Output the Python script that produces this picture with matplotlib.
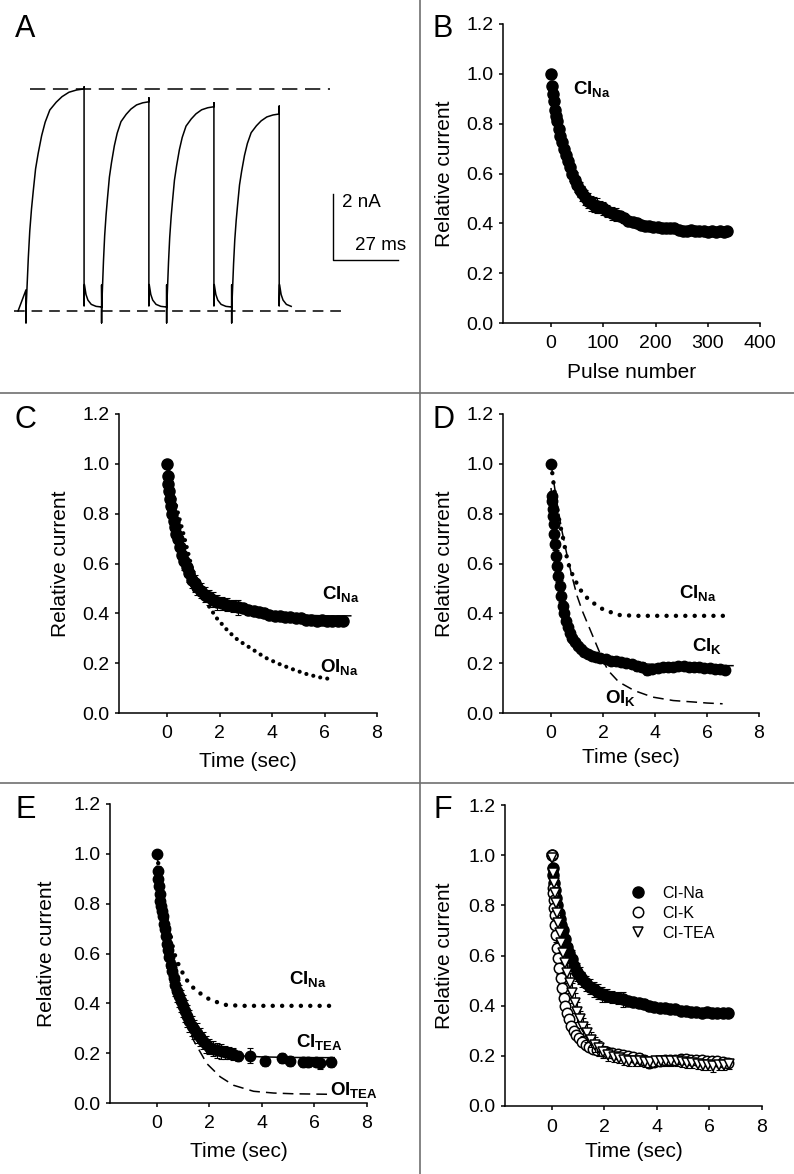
import numpy as np
import matplotlib
matplotlib.use('Agg')
import matplotlib.pyplot as plt
from matplotlib.lines import Line2D
from matplotlib.ticker import FormatStrFormatter

plt.rcParams['font.family'] = ['Liberation Sans', 'DejaVu Sans']
plt.rcParams['mathtext.fontset'] = 'custom'
plt.rcParams['mathtext.rm'] = 'Liberation Sans'
plt.rcParams['mathtext.bf'] = 'Liberation Sans:bold'
plt.rcParams['mathtext.it'] = 'Liberation Sans:italic'

# ---- panel A: current traces (ms, nA) ----
pulseStart = [0, 31.5, 58.6, 85.7]
pulseDur = [24.2, 19.7, 19.7, 19.8]
pulsePeak = [6.73, 6.34, 6.19, 5.97]
endTop = [6.79, 6.46, 6.31, 6.21]
artTop = [0.64, 0.79, 0.79, 0.79]
artBottom = -0.36
riseFrac = [0, 0.02, 0.04, 0.065, 0.095, 0.125, 0.165, 0.21, 0.27, 0.33, 0.41, 0.52, 0.62, 0.74, 0.87, 1.0]
riseVal = [0, 0.12, 0.24, 0.36, 0.46, 0.54, 0.64, 0.71, 0.79, 0.85, 0.905, 0.94, 0.965, 0.985, 0.995, 1.0]
tailT = [0, 0.15, 0.8, 1.6, 3.0, 5.0, 7.4]
tailVal = [0.15, 0.8, 0.5, 0.33, 0.2, 0.14, 0.12]
lastTail = 5.7
peakLevel = 6.73
scaleX, scaleY = 127.9, 1.545   # corner of the scale bar
scaleMs, scaleNa = 27, 2

# ---- panel B: CI_Na vs pulse number ----
pulseNum = [0, 2, 4, 6, 8, 10, 12, 15, 18, 21, 24, 28, 32, 36, 40, 45, 50, 55, 60, 65,
            70, 76, 82, 88, 94, 100, 108, 116, 124, 132, 140, 148, 156, 164, 172, 180, 188, 196, 204, 212,
            220, 228, 236, 244, 252, 260, 268, 276, 284, 292, 300, 308, 316, 324, 332, 336]
pulseY = [1.00, 0.95, 0.92, 0.89, 0.855, 0.83, 0.81, 0.78, 0.75, 0.725, 0.70, 0.675, 0.65, 0.625, 0.60, 0.575, 0.555, 0.535, 0.52, 0.505,
          0.49, 0.48, 0.475, 0.47, 0.465, 0.46, 0.45, 0.44, 0.435, 0.43, 0.42, 0.41, 0.405, 0.40, 0.395, 0.39, 0.39, 0.385, 0.385, 0.38,
          0.38, 0.38, 0.38, 0.375, 0.37, 0.37, 0.375, 0.37, 0.37, 0.37, 0.365, 0.37, 0.365, 0.37, 0.365, 0.37]
pulseErr = [0.0, 0.01, 0.01, 0.015, 0.015, 0.015, 0.02, 0.02, 0.02, 0.025, 0.025, 0.025, 0.03, 0.03, 0.03, 0.03, 0.03, 0.03, 0.03, 0.03,
            0.03, 0.03, 0.03, 0.03, 0.025, 0.025, 0.025, 0.025, 0.025, 0.02, 0.02, 0.015, 0.015, 0.015, 0.015, 0.015, 0.015, 0.015, 0.015, 0.015,
            0.015, 0.015, 0.015, 0.015, 0.015, 0.015, 0.015, 0.015, 0.015, 0.015, 0.015, 0.015, 0.015, 0.015, 0.015, 0.015]

# ---- panel C: CI_Na vs time ----
cinaT = [0, 0.02, 0.05, 0.08, 0.12, 0.16, 0.2, 0.25, 0.3, 0.36, 0.42, 0.5, 0.58, 0.66, 0.75, 0.85, 0.95, 1.05, 1.15, 1.3,
         1.45, 1.6, 1.75, 1.9, 2.1, 2.3, 2.5, 2.7, 2.9, 3.1, 3.3, 3.5, 3.7, 3.9, 4.1, 4.3, 4.5, 4.7, 4.9, 5.1,
         5.3, 5.5, 5.7, 5.9, 6.1, 6.3, 6.5, 6.7]
cinaY = [1.0, 0.95, 0.92, 0.89, 0.86, 0.83, 0.80, 0.77, 0.745, 0.72, 0.70, 0.665, 0.635, 0.61, 0.585, 0.56, 0.535, 0.52, 0.505, 0.49,
         0.475, 0.465, 0.455, 0.445, 0.44, 0.435, 0.43, 0.425, 0.42, 0.415, 0.41, 0.405, 0.40, 0.395, 0.39, 0.39, 0.385, 0.385, 0.38, 0.38,
         0.375, 0.375, 0.37, 0.375, 0.37, 0.37, 0.37, 0.37]
cinaErr = [0.0, 0.015, 0.015, 0.02, 0.02, 0.02, 0.025, 0.025, 0.025, 0.03, 0.03, 0.03, 0.03, 0.035, 0.035, 0.035, 0.035, 0.035, 0.03, 0.03,
           0.03, 0.03, 0.03, 0.03, 0.025, 0.025, 0.025, 0.03, 0.02, 0.02, 0.02, 0.02, 0.02, 0.015, 0.015, 0.015, 0.015, 0.015, 0.015, 0.015,
           0.015, 0.015, 0.015, 0.015, 0.015, 0.015, 0.015, 0.015]
cinaFitT = [0, 0.1, 0.25, 0.5, 0.75, 1.0, 1.5, 2.0, 3.0, 4.0, 5.0, 6.0, 7.0]
cinaFitY = [0.97, 0.88, 0.78, 0.66, 0.58, 0.53, 0.47, 0.44, 0.415, 0.40, 0.393, 0.39, 0.39]
oinaT = [0, 0.3, 0.6, 1.0, 1.4, 1.89, 2.33, 2.71, 3.22, 3.73, 4.24, 4.75, 5.26, 5.77, 6.34]
oinaY = [1.0, 0.85, 0.73, 0.56, 0.46, 0.381, 0.328, 0.292, 0.258, 0.223, 0.198, 0.177, 0.158, 0.144, 0.134]

# ---- CI_Na fit shown dotted in D and E ----
naFitT = [0, 0.05, 0.12, 0.2, 0.35, 0.44, 0.64, 0.77, 1.08, 1.46, 2.04, 2.65, 3.3, 4.0, 5.0, 6.0, 6.8]
naFitY = [1.0, 0.96, 0.9, 0.84, 0.753, 0.713, 0.607, 0.567, 0.5, 0.453, 0.413, 0.393, 0.39, 0.39, 0.39, 0.39, 0.39]

# ---- panel D: CI_K ----
cikT = [0, 0.02, 0.04, 0.06, 0.08, 0.1, 0.13, 0.16, 0.2, 0.24, 0.28, 0.33, 0.38, 0.44, 0.5, 0.57, 0.65, 0.73, 0.82, 0.92,
        1.03, 1.15, 1.28, 1.42, 1.57, 1.73, 1.9, 2.1, 2.3, 2.5, 2.7, 2.9, 3.1, 3.3, 3.5, 3.7, 3.9, 4.1, 4.3, 4.5,
        4.7, 4.9, 5.1, 5.3, 5.5, 5.7, 5.9, 6.1, 6.3, 6.5, 6.7]
cikY = [1.0, 0.87, 0.85, 0.82, 0.79, 0.76, 0.72, 0.68, 0.63, 0.59, 0.55, 0.51, 0.47, 0.43, 0.40, 0.37, 0.345, 0.32, 0.30, 0.285,
        0.27, 0.255, 0.243, 0.235, 0.228, 0.224, 0.22, 0.215, 0.21, 0.207, 0.203, 0.2, 0.195, 0.19, 0.183, 0.172, 0.175, 0.18, 0.185, 0.185,
        0.185, 0.187, 0.187, 0.185, 0.185, 0.183, 0.18, 0.18, 0.178, 0.175, 0.172]
cikErr = [0.0, 0.02, 0.025, 0.025, 0.025, 0.025, 0.025, 0.025, 0.025, 0.025, 0.025, 0.025, 0.025, 0.02, 0.02, 0.02, 0.02, 0.02, 0.02, 0.015,
          0.015, 0.015, 0.015, 0.015, 0.015, 0.015, 0.015, 0.015, 0.015, 0.015, 0.015, 0.015, 0.015, 0.02, 0.02, 0.02, 0.015, 0.015, 0.015, 0.015,
          0.015, 0.015, 0.015, 0.015, 0.015, 0.015, 0.015, 0.015, 0.015, 0.015, 0.015]
cikFitT = [0, 0.1, 0.2, 0.35, 0.5, 0.7, 0.9, 1.2, 1.5, 2.0, 2.5, 3.0, 4.0, 5.0, 6.0, 7.0]
cikFitY = [0.9, 0.78, 0.67, 0.55, 0.46, 0.37, 0.31, 0.26, 0.235, 0.215, 0.205, 0.2, 0.195, 0.192, 0.19, 0.19]
oikT = [0, 0.2, 0.4, 0.6, 0.8, 1.0, 1.2, 1.4, 1.6, 1.8, 2.0, 2.2, 2.6, 3.2, 3.9, 4.7, 5.5, 6.0, 6.6]
oikY = [1.0, 0.86, 0.74, 0.64, 0.55, 0.47, 0.41, 0.36, 0.31, 0.26, 0.21, 0.17, 0.125, 0.09, 0.064, 0.05, 0.044, 0.04, 0.037]

# ---- panel E: CI_TEA ----
citeaT = [0, 0.03, 0.05, 0.08, 0.1, 0.13, 0.16, 0.19, 0.22, 0.26, 0.3, 0.34, 0.38, 0.42, 0.47, 0.52, 0.57, 0.63, 0.69, 0.76,
          0.83, 0.9, 0.98, 1.06, 1.14, 1.23, 1.32, 1.42, 1.52, 1.63, 1.75, 1.88, 2.0, 2.15, 2.3, 2.45, 2.6, 2.75, 2.9, 3.1,
          3.56, 4.13, 4.75, 5.05, 5.55, 5.75, 6.05, 6.2, 6.63]
citeaY = [1.0, 0.93, 0.9, 0.87, 0.84, 0.81, 0.79, 0.77, 0.75, 0.72, 0.70, 0.67, 0.64, 0.615, 0.585, 0.555, 0.53, 0.5, 0.475, 0.45,
          0.43, 0.41, 0.39, 0.37, 0.35, 0.33, 0.31, 0.295, 0.28, 0.265, 0.25, 0.235, 0.225, 0.218, 0.212, 0.207, 0.203, 0.2, 0.197, 0.19,
          0.19, 0.17, 0.18, 0.17, 0.165, 0.163, 0.165, 0.16, 0.165]
citeaErr = [0.0, 0.02, 0.02, 0.02, 0.025, 0.025, 0.03, 0.03, 0.03, 0.035, 0.035, 0.04, 0.04, 0.04, 0.045, 0.045, 0.045, 0.045, 0.045, 0.045,
            0.045, 0.045, 0.045, 0.045, 0.045, 0.045, 0.04, 0.04, 0.04, 0.035, 0.035, 0.035, 0.03, 0.03, 0.03, 0.03, 0.025, 0.025, 0.025, 0.02,
            0.03, 0.02, 0.02, 0.02, 0.02, 0.02, 0.015, 0.025, 0.02]
citeaFitT = [0, 0.1, 0.2, 0.35, 0.5, 0.7, 0.9, 1.2, 1.5, 2.0, 2.5, 3.0, 4.0, 5.0, 6.0, 6.75]
citeaFitY = [0.95, 0.85, 0.77, 0.67, 0.58, 0.48, 0.41, 0.33, 0.27, 0.22, 0.2, 0.19, 0.185, 0.183, 0.182, 0.182]
oiteaT = [0, 0.3, 0.6, 1.0, 1.4, 1.9, 2.41, 2.92, 3.68, 4.44, 5.2, 6.54]
oiteaY = [1.0, 0.7, 0.5, 0.36, 0.25, 0.158, 0.105, 0.071, 0.047, 0.04, 0.037, 0.035]

# ---- panel F: CI-TEA recorded with the other two ----
fteaT = [0, 0.03, 0.06, 0.1, 0.14, 0.19, 0.24, 0.3, 0.36, 0.43, 0.5, 0.58, 0.67, 0.76, 0.86, 0.97, 1.08, 1.2, 1.33, 1.47,
         1.62, 1.78, 1.95, 2.15, 2.35, 2.55, 2.75, 2.95, 3.15, 3.35, 3.55, 3.75, 3.95, 4.15, 4.35, 4.55, 4.75, 4.95, 5.15, 5.35,
         5.55, 5.75, 5.95, 6.15, 6.35, 6.55, 6.75]
fteaY = [0.99, 0.93, 0.89, 0.85, 0.81, 0.77, 0.73, 0.69, 0.65, 0.61, 0.57, 0.53, 0.49, 0.45, 0.41, 0.375, 0.345, 0.315, 0.29, 0.265,
         0.245, 0.23, 0.215, 0.205, 0.197, 0.19, 0.185, 0.18, 0.178, 0.178, 0.175, 0.175, 0.178, 0.18, 0.18, 0.178, 0.178, 0.175, 0.172, 0.17,
         0.168, 0.165, 0.162, 0.16, 0.162, 0.165, 0.168]
fteaErr = [0.0, 0.02, 0.02, 0.025, 0.025, 0.03, 0.03, 0.035, 0.035, 0.04, 0.04, 0.04, 0.04, 0.04, 0.04, 0.04, 0.035, 0.035, 0.035, 0.03,
           0.03, 0.03, 0.025, 0.025, 0.02, 0.02, 0.02, 0.02, 0.02, 0.02, 0.02, 0.02, 0.02, 0.02, 0.02, 0.02, 0.02, 0.02, 0.02, 0.02,
           0.02, 0.02, 0.02, 0.025, 0.02, 0.02, 0.02]

W, H = 794, 1174
fig = plt.figure(figsize=(W / 100, H / 100), dpi=100)


def pxAxes(left, top, right, bottom):
    return fig.add_axes([left / W, 1 - bottom / H, (right - left) / W, (bottom - top) / H])


def styleAxes(ax, xlim, xticks, xlabel, labx=-0.19, laby=-0.13):
    ax.set_xlim(xlim)
    ax.set_ylim(0, 1.2)
    ax.set_xticks(xticks)
    ax.set_yticks([0, 0.2, 0.4, 0.6, 0.8, 1.0, 1.2])
    ax.yaxis.set_major_formatter(FormatStrFormatter('%.1f'))
    ax.spines['top'].set_visible(False)
    ax.spines['right'].set_visible(False)
    ax.spines['left'].set_linewidth(1.1)
    ax.spines['bottom'].set_linewidth(1.1)
    ax.tick_params(direction='out', length=3, width=1.1, labelsize=14)
    ax.tick_params(axis='x', pad=6)
    ax.tick_params(axis='y', pad=4)
    ax.set_ylabel('Relative current', fontsize=15)
    ax.set_xlabel(xlabel, fontsize=15)
    ax.yaxis.set_label_coords(labx, 0.5)
    ax.xaxis.set_label_coords(0.5, laby)


def filledSeries(ax, x, y, err, ms=8):
    ax.errorbar(x, y, yerr=err, fmt='none', ecolor='black', elinewidth=0.8, capsize=2.5, capthick=0.8, zorder=2)
    return ax.plot(x, y, 'o', color='black', ms=ms, zorder=3)[0]


def label(ax, x, y, main, sub):
    ax.text(x, y, r'$\mathbf{%s}_{\mathbf{%s}}$' % (main, sub), fontsize=13.5, va='baseline', ha='left', zorder=5)


dotted = dict(color='black', lw=3, linestyle=(0, (0.01, 1.7)), dash_capstyle='round', zorder=4)
dottedWide = dict(color='black', lw=3.2, linestyle=(0, (0.01, 2.1)), dash_capstyle='round', zorder=4)
dashed = dict(color='black', lw=1.1, linestyle=(0, (7, 4)), zorder=4)

# panel A
axA = pxAxes(0, 0, 419, 392)
axA.set_xlim(-10.83, 163.75)
axA.set_ylim(-2.455, 9.424)
axA.axis('off')
traceX = [-3.3]
traceY = [0.0]
for i in range(len(pulseStart)):
    s = pulseStart[i]
    d = pulseDur[i]
    traceX += [s, s, s]
    traceY += [artTop[i], artBottom, 0]
    for f, v in zip(riseFrac, riseVal):
        traceX.append(s + f * d)
        traceY.append(pulsePeak[i] * v)
    e = s + d
    traceX.append(e)
    traceY.append(endTop[i])
    for t, v in zip(tailT, tailVal):
        if i == len(pulseStart) - 1 and t > lastTail:
            break
        traceX.append(e + t)
        traceY.append(v)
axA.plot(traceX, traceY, color='black', lw=1.1)
axA.plot([1.67, 126.7], [peakLevel, peakLevel], color='black', lw=1.1, linestyle=(0, (10, 5)))
axA.plot([-5, 132], [0, 0], color='black', lw=1.1, linestyle=(0, (7, 4.5)))
axA.plot([scaleX, scaleX, scaleX + scaleMs], [scaleY + scaleNa, scaleY, scaleY], color='black', lw=1.0)
axA.text(scaleX + 3.8, scaleY + 1.75, '2 nA', fontsize=13.5, va='center', ha='left')
axA.text(scaleX + 9.2, scaleY + 0.45, '27 ms', fontsize=13.5, va='center', ha='left')

# panel B
axB = pxAxes(503, 24, 760, 323)
filledSeries(axB, pulseNum, pulseY, pulseErr)
label(axB, 42, 0.92, 'CI', 'Na')
styleAxes(axB, (-92, 400), [0, 100, 200, 300, 400], 'Pulse number', laby=-0.134)

# panel C
axC = pxAxes(119, 414, 377, 713)
filledSeries(axC, cinaT, cinaY, cinaErr)
axC.plot(cinaFitT, cinaFitY, color='black', lw=1.1, zorder=2.5)
axC.plot(oinaT, oinaY, **dotted)
label(axC, 5.9, 0.457, 'CI', 'Na')
label(axC, 5.83, 0.165, 'OI', 'Na')
styleAxes(axC, (-1.83, 8), [0, 2, 4, 6, 8], 'Time (sec)')

# panel D
axD = pxAxes(503, 414, 759, 713)
filledSeries(axD, cikT, cikY, cikErr, ms=7.5)
axD.plot(cikFitT, cikFitY, color='black', lw=1.1, zorder=2.5)
axD.plot(naFitT, naFitY, **dottedWide)
axD.plot(oikT, oikY, **dashed)
label(axD, 4.92, 0.46, 'CI', 'Na')
label(axD, 5.42, 0.249, 'CI', 'K')
label(axD, 2.08, 0.04, 'OI', 'K')
styleAxes(axD, (-1.85, 8), [0, 2, 4, 6, 8], 'Time (sec)', laby=-0.117)

# panel E
axE = pxAxes(110, 804, 367, 1103)
filledSeries(axE, citeaT, citeaY, citeaErr, ms=7.5)
axE.plot(citeaFitT, citeaFitY, color='black', lw=1.1, zorder=2.5)
axE.plot(naFitT, naFitY, **dottedWide)
axE.plot(oiteaT, oiteaY, **dashed)
label(axE, 5.03, 0.478, 'CI', 'Na')
label(axE, 5.3, 0.225, 'CI', 'TEA')
label(axE, 6.6, 0.032, 'OI', 'TEA')
styleAxes(axE, (-1.79, 8), [0, 2, 4, 6, 8], 'Time (sec)', labx=-0.21)

# panel F
axF = pxAxes(505, 805, 762, 1106)
hNa = filledSeries(axF, cinaT, cinaY, cinaErr, ms=8)
axF.errorbar(cikT, cikY, yerr=cikErr, fmt='none', ecolor='black', elinewidth=0.8, capsize=2.5, capthick=0.8, zorder=3.1)
hK = axF.plot(cikT, cikY, 'o', mfc='white', mec='black', mew=1.1, ms=7.5, zorder=3.2)[0]
axF.errorbar(fteaT, fteaY, yerr=fteaErr, fmt='none', ecolor='black', elinewidth=0.8, capsize=2.5, capthick=0.8, zorder=3.3)
hTea = axF.plot(fteaT, fteaY, 'v', mfc='white', mec='black', mew=1.1, ms=7.5, zorder=3.4)[0]
axF.legend([hNa, hK, hTea], ['CI-Na', 'CI-K', 'CI-TEA'], loc='upper left',
           bbox_to_anchor=(630 / W, 1 - 886 / H), bbox_transform=fig.transFigure,
           frameon=False, fontsize=11.5, handlelength=1.0, handletextpad=1.0,
           borderpad=0, borderaxespad=0, labelspacing=0.3)
styleAxes(axF, (-1.79, 8), [0, 2, 4, 6, 8], 'Time (sec)', labx=-0.2, laby=-0.12)

# panel letters
for letter, lx, ly in [('A', 15, 37), ('B', 432, 37), ('C', 15, 428), ('D', 432, 428), ('E', 15, 818), ('F', 433, 818)]:
    fig.text(lx / W, 1 - ly / H, letter, fontsize=22, va='baseline', ha='left')

# panel separators
sep = '#707070'
fig.add_artist(Line2D([420 / W, 420 / W], [0, 1], color=sep, lw=1.2, transform=fig.transFigure))
fig.add_artist(Line2D([0, 1], [1 - 393 / H, 1 - 393 / H], color=sep, lw=1.2, transform=fig.transFigure))
fig.add_artist(Line2D([0, 1], [1 - 783 / H, 1 - 783 / H], color=sep, lw=1.2, transform=fig.transFigure))

fig.savefig('out.png', dpi=100)
